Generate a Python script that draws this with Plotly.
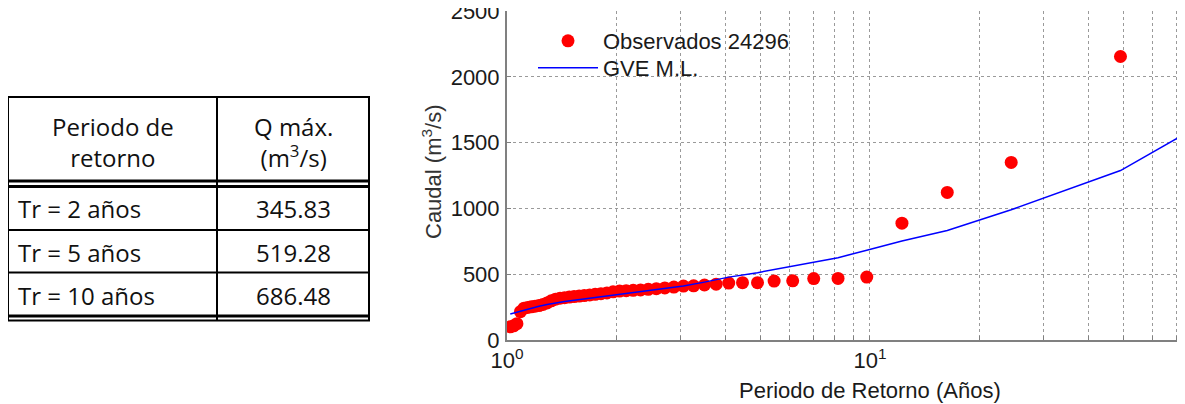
import plotly.graph_objects as go

# ---------------- data ----------------
T_obs = [1.021, 1.043, 1.065, 1.089, 1.114, 1.140, 1.167, 1.195, 1.225, 1.256,
         1.289, 1.324, 1.361, 1.400, 1.441, 1.485, 1.531, 1.581, 1.633, 1.690,
         1.750, 1.815, 1.885, 1.960, 2.042, 2.130, 2.227, 2.333, 2.450, 2.579,
         2.722, 2.882, 3.063, 3.267, 3.500, 3.769, 4.083, 4.455, 4.900, 5.444,
         6.125, 7.000, 8.167, 9.800, 12.25, 16.33, 24.50, 49.00]
Q_obs = [100, 108, 124, 215, 242, 248, 252, 257, 262, 270,
         282, 298, 310, 318, 322, 326, 330, 334, 338, 342,
         347, 352, 358, 366, 372, 375, 378, 381, 385, 390,
         396, 402, 410, 412, 418, 424, 433, 436, 436, 448,
         450, 467, 468, 478, 888, 1122, 1350, 2155]

T_gve = [1.021, 1.065, 1.114, 1.167, 1.225, 1.289, 1.361, 1.441, 1.531, 1.633,
         1.750, 1.885, 2.042, 2.227, 2.450, 2.722, 3.063, 3.500, 4.083, 4.900,
         6.125, 7.000, 8.167, 9.800, 12.25, 16.33, 24.50, 49.00, 100.0]
Q_gve = [198, 212, 228, 242, 256, 270, 282, 292, 302, 312,
         323, 334, 346, 359, 374, 390, 410, 440, 478, 512,
         561, 593, 626, 682, 752, 833, 990, 1288, 1775]

x_tickvals = [1, 2, 3, 4, 5, 6, 7, 8, 9, 10, 20, 30, 40, 50, 60, 70, 80, 90, 100]
x_ticktext = ["10<sup>0</sup>", "", "", "", "", "", "", "", "",
              "10<sup>1</sup>", "", "", "", "", "", "", "", "", "10<sup>2</sup>"]
y_tickvals = [0, 500, 1000, 1500, 2000, 2500]

table_header = ["Periodo de<br>retorno", "Q máx.<br>(m<sup>3</sup>/s)"]
table_periods = ["Tr = 2 años", "Tr = 5 años", "Tr = 10 años"]
table_qmax = ["345.83", "519.28", "686.48"]

# ---------------- layout geometry (pixels) ----------------
# the page body adds an 8 px offset, so the figure is 8 px smaller
BODY = 8
FIG_W, FIG_H = 1185 - BODY, 404 - BODY
L, R_M, T_M, B_M = 507 - BODY, 0, 11 - BODY, 64
PW = FIG_W - L - R_M          # 678
PH = FIG_H - T_M - B_M        # 329
BOTTOM_REF = 340              # plot bottom in window pixels
LEFT_REF = 507                # plot left in window pixels


def px(xp):
    return (xp - LEFT_REF) / PW


def py(yp):
    return (BOTTOM_REF - yp) / PH


CHART_FONT = "Liberation Sans, Arial, sans-serif"
TABLE_FONT = "Open Sans, Noto Sans, sans-serif"

fig = go.Figure()
fig.add_trace(go.Scatter(
    x=T_obs, y=Q_obs, mode="markers", name="Observados 24296",
    marker=dict(color="#ff0000", size=13, line=dict(width=0)),
    legend="legend",
))
fig.add_trace(go.Scatter(
    x=T_gve, y=Q_gve, mode="lines", name="GVE M.L.",
    line=dict(color="#0000ff", width=1.5),
    legend="legend2",
))

grid = dict(showgrid=True, gridcolor="#9a9a9a", gridwidth=1, griddash="dot")
fig.update_xaxes(
    type="log", range=[0, 1.868], tickvals=x_tickvals, ticktext=x_ticktext,
    showline=True, linecolor="#808080", linewidth=2, zeroline=False,
    ticks="inside", ticklen=4, tickcolor="#808080", automargin=False,
    tickfont=dict(family=CHART_FONT, size=22, color="#1a1a1a"),
    **grid,
)
fig.update_yaxes(
    range=[0, 2501], tickvals=y_tickvals,
    showline=True, linecolor="#808080", linewidth=2, zeroline=False,
    ticks="inside", ticklen=4, tickcolor="#808080", automargin=False,
    tickfont=dict(family=CHART_FONT, size=22, color="#1a1a1a"),
    ticklabelstandoff=1, ticklabeloverflow="allow",
    **grid,
)

shapes = []
# white background behind legend (covers grid only)
shapes.append(dict(type="rect", xref="paper", yref="paper",
                   x0=px(528), x1=px(798), y0=py(85), y1=py(23),
                   fillcolor="white", line=dict(width=0), layer="between"))

# ---------------- table ----------------
TX0, TX1, TXM = 8, 369, 217
TY0 = 97
hlines = [(TY0, 2), (181, 3), (186.5, 3), (230, 2), (272.5, 2), (316, 3), (320.5, 2)]
for yy, w in hlines:
    shapes.append(dict(type="line", xref="paper", yref="paper",
                       x0=px(TX0 - 1), x1=px(TX1 + 1), y0=py(yy), y1=py(yy),
                       line=dict(color="black", width=w)))
for xx in (TX0, TXM, TX1):
    shapes.append(dict(type="line", xref="paper", yref="paper",
                       x0=px(xx), x1=px(xx), y0=py(TY0), y1=py(320.5),
                       line=dict(color="black", width=2)))

annotations = []
tfont = dict(family=TABLE_FONT, size=24, color="#111111")
annotations.append(dict(text=table_header[0], x=px((TX0 + TXM) / 2), y=py(142),
                        xref="paper", yref="paper", showarrow=False,
                        xanchor="center", yanchor="middle", font=tfont, align="center"))
annotations.append(dict(text=table_header[1], x=px((TXM + TX1) / 2), y=py(142),
                        xref="paper", yref="paper", showarrow=False,
                        xanchor="center", yanchor="middle", font=tfont, align="center"))
row_y = [209, 252, 295]
for lab, val, yy in zip(table_periods, table_qmax, row_y):
    annotations.append(dict(text=lab, x=px(16), y=py(yy), xref="paper", yref="paper",
                            showarrow=False, xanchor="left", yanchor="middle", font=tfont))
    annotations.append(dict(text=val, x=px((TXM + TX1) / 2), y=py(yy), xref="paper",
                            yref="paper", showarrow=False, xanchor="center",
                            yanchor="middle", font=tfont))

# axis titles
annotations.append(dict(text="Periodo de Retorno (Años)", x=1, y=py(390),
                        xref="x", yref="paper", showarrow=False,
                        xanchor="center", yanchor="middle",
                        font=dict(family=CHART_FONT, size=22, color="#1a1a1a")))
annotations.append(dict(text="Caudal (m<sup>3</sup>/s)", x=px(432), y=py(172),
                        xref="paper", yref="paper", showarrow=False, textangle=-90,
                        xanchor="center", yanchor="middle",
                        font=dict(family=CHART_FONT, size=22, color="#333333")))

legend_common = dict(xanchor="left", yanchor="middle", bgcolor="rgba(0,0,0,0)",
                     borderwidth=0, itemwidth=60,
                     font=dict(family=CHART_FONT, size=22, color="#1a1a1a"))

fig.update_layout(
    width=FIG_W, height=FIG_H,
    margin=dict(l=L, r=R_M, t=T_M, b=B_M, pad=0, autoexpand=False),
    paper_bgcolor="white", plot_bgcolor="white",
    showlegend=True,
    legend=dict(x=px(533), y=py(41), **legend_common),
    legend2=dict(x=px(533), y=py(68), **legend_common),
    shapes=shapes, annotations=annotations,
)

fig.write_html("out.html")
